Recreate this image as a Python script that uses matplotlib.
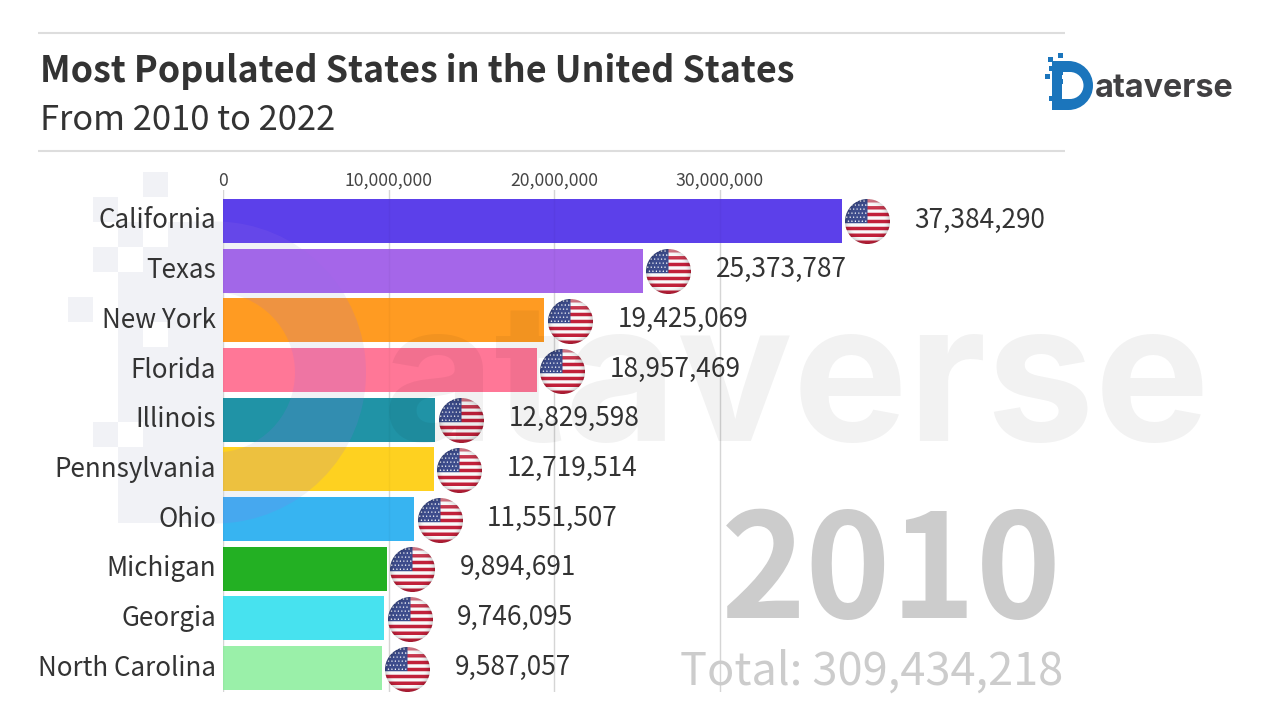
import numpy as np
import matplotlib
matplotlib.use("Agg")
import matplotlib.pyplot as plt
from matplotlib.offsetbox import OffsetImage, AnnotationBbox
from matplotlib.patches import PathPatch, Rectangle
from matplotlib.path import Path

plt.rcParams['font.family'] = ['Noto Sans CJK SC', 'DejaVu Sans']

states = ["California", "Texas", "New York", "Florida", "Illinois", "Pennsylvania",
          "Ohio", "Michigan", "Georgia", "North Carolina"]
population = [37384290, 25373787, 19425069, 18957469, 12829598, 12719514,
              11551507, 9894691, 9746095, 9587057]
colors = ["#5c40ea", "#a566e9", "#ff9b22", "#ff7797", "#2093a6", "#fed120",
          "#37b4f1", "#23b023", "#47e2ef", "#9af0a9"]
tick_values = [0, 10000000, 20000000, 30000000]
year = "2010"
total = 309434218
title = "Most Populated States in the United States"
subtitle = "From 2010 to 2022"
W, H = 1280, 720


def flag(d=45, ss=4):
    n = d * ss
    yy, xx = np.mgrid[0:n, 0:n]
    u = (xx + .5) / n
    v = (yy + .5) / n
    img = np.ones((n, n, 4))
    stripe = (v * 13).astype(int) % 2 == 0
    img[..., :3] = np.where(stripe[..., None], [0.76, 0.13, 0.23], [0.98, 0.98, 0.98])
    canton = (u < 0.5) & (v < 7 / 13)
    img[canton, :3] = [0.24, 0.30, 0.55]
    for r in range(6):
        for c in range(6):
            sx = (c + .5 + (r % 2) * .5) / 6.5 * .5
            sy = (r + .5) / 6 * 7 / 13
            star = (u - sx) ** 2 + (v - sy) ** 2 < 0.016 ** 2
            img[star & canton, :3] = 1
    rad = np.hypot(u - .5, v - .5) * 2
    shade = 1 - 0.18 * np.clip((rad - .7) / .3, 0, 1) ** 2
    img[..., :3] *= shade[..., None]
    # the top of the sphere fades out as in the video frame
    fade = 1 - 0.45 * np.clip((0.25 - v) / 0.25, 0, 1) * (u >= .5)
    img[..., :3] = 1 - (1 - img[..., :3]) * fade[..., None]
    img[..., 3] = rad <= 1
    img = img.reshape(d, ss, d, ss, 4).mean(axis=(1, 3))
    return img


fig = plt.figure(figsize=(W / 100, H / 100), dpi=100, facecolor="white")

# Chart axes: x scale 165.5 px per 10M starting at px 223; rows 49.67 px apart
px_per_val = 165.5 / 1e7
row = 49.67
ax = fig.add_axes([223 / W, 1 - 692 / H, (1065 - 223) / W, (692 - 190) / H], zorder=2)
ax.patch.set_alpha(0)
ax.set_xlim(0, (1065 - 223) / px_per_val)
ax.set_ylim((692 - 221) / row, (190 - 221) / row)
y = np.arange(len(states))
bars = ax.barh(y, population, height=44 / row, color=colors, zorder=2)
for t in tick_values:
    ax.axvline(t, color="#dcdcdc", lw=1, zorder=1)
    ax.axvline(t, color="#000000", alpha=0.03, lw=1, zorder=3)
ax.xaxis.tick_top()
ax.set_xticks(tick_values, [f"{t:,}" for t in tick_values], fontsize=12.7, color="#444444")
ax.tick_params(axis="x", length=0, pad=0)
ax.set_yticks(y, states, fontsize=18.7, color="#333333")
ax.tick_params(axis="y", length=0, pad=4.8)
for lab in ax.get_yticklabels():
    lab.set_verticalalignment("center")
for s in ax.spines.values():
    s.set_visible(False)

img = flag()
for yi, v in zip(y, population):
    ab = AnnotationBbox(OffsetImage(img, zoom=0.72, interpolation="nearest"), (v, yi),
                        xybox=(26, -1), xycoords="data", boxcoords="offset pixels",
                        frameon=False, pad=0, zorder=5)
    ax.add_artist(ab)
    ax.annotate(f"{v:,}", (v, yi), xytext=(73, 1), textcoords="offset pixels",
                fontsize=18.9, color="#333333", va="center", ha="left", zorder=5)

# Page furniture in pixel coordinates
page = fig.add_axes([0, 0, 1, 1], zorder=1)
over = fig.add_axes([0, 0, 1, 1], zorder=3)
for a in (page, over):
    a.set_xlim(0, W)
    a.set_ylim(H, 0)
    a.axis("off")
    a.patch.set_alpha(0)


def d_path(cx, cy, r, x0, ci, ri, xi):
    k = 0.5523
    verts = [(x0, cy - r), (cx, cy - r),
             (cx + k * r, cy - r), (cx + r, cy - k * r), (cx + r, cy),
             (cx + r, cy + k * r), (cx + k * r, cy + r), (cx, cy + r),
             (x0, cy + r), (x0, cy - r),
             (xi, cy + ri), (ci, cy + ri),
             (ci + k * ri, cy + ri), (ci + ri, cy + k * ri), (ci + ri, cy),
             (ci + ri, cy - k * ri), (ci + k * ri, cy - ri), (ci, cy - ri),
             (xi, cy - ri), (xi, cy + ri)]
    codes = [Path.MOVETO, Path.LINETO, Path.CURVE4, Path.CURVE4, Path.CURVE4,
             Path.CURVE4, Path.CURVE4, Path.CURVE4, Path.LINETO, Path.CLOSEPOLY,
             Path.MOVETO, Path.LINETO, Path.CURVE4, Path.CURVE4, Path.CURVE4,
             Path.CURVE4, Path.CURVE4, Path.CURVE4, Path.LINETO, Path.CLOSEPOLY]
    return Path(verts, codes)


# Watermark: pale layer under the bars, tint over the bars only
PALE = "#f1f2f6"
wm_d = d_path(215, 372.5, 151, 190, 215, 80, 190)
page.add_patch(PathPatch(wm_d, fc=PALE, ec="none"))
page.add_patch(Rectangle((118, 272), 105, 251, color=PALE, lw=0))
for cx_, cy_, w_, h_ in [(143, 172, 25, 25), (93, 197, 25, 25), (118, 222, 25, 25),
                         (168, 222, 25, 25), (93, 247, 25, 25), (143, 247, 80, 25),
                         (68, 297, 25, 25), (93, 422, 25, 25)]:
    page.add_patch(Rectangle((cx_, cy_), w_, h_, color=PALE, lw=0))
for cx_, cy_ in [(143, 322), (118, 422)]:
    page.add_patch(Rectangle((cx_, cy_), 25, 25, color="white", lw=0))
for b in bars:
    tint = PathPatch(wm_d, fc="#966ee6", ec="none", alpha=0.16)
    over.add_patch(tint)
    tint.set_clip_path(b)
over.text(1210, 441, "ataverse", fontsize=139, fontweight="bold", family="Inter",
          color="#000000", alpha=0.05, ha="right", va="baseline")

# Rules and headings
for yy in (33, 151):
    page.plot([38, 1065], [yy, yy], color="#dddddd", lw=1.5, solid_capstyle="butt")
page.text(40, 72, title, fontsize=25.8, fontweight="bold", color="#333333", va="center", ha="left")
page.text(40, 120, subtitle, fontsize=24.8, color="#333333", va="center", ha="left")

# Year and total
over.text(1062, 618, year, fontsize=104, fontweight=900, color="#cccccc", ha="right", va="baseline")
over.text(1063, 685, f"Total: {total:,}", fontsize=32.5, color="#cccccc", ha="right", va="baseline")

# Logo
logo_pixels = [(1058, 53), (1048, 57), (1053, 62), (1049, 66), (1062, 62), (1058, 70),
               (1045, 74), (1058, 79), (1053, 80), (1049, 96), (1053, 96)]
page.add_patch(PathPatch(d_path(1068.5, 85.5, 24.5, 1052, 1070, 13.5, 1062),
                         fc="#1b75bc", ec="none"))
for lx, ly in logo_pixels:
    page.add_patch(Rectangle((lx, ly), 4.5, 4.5, color="#1b75bc", lw=0))
page.text(1234, 97, "ataverse", fontsize=23.3, fontweight="bold", family="Inter",
          color="#414042", ha="right", va="baseline")

fig.savefig("out.png", dpi=100)
